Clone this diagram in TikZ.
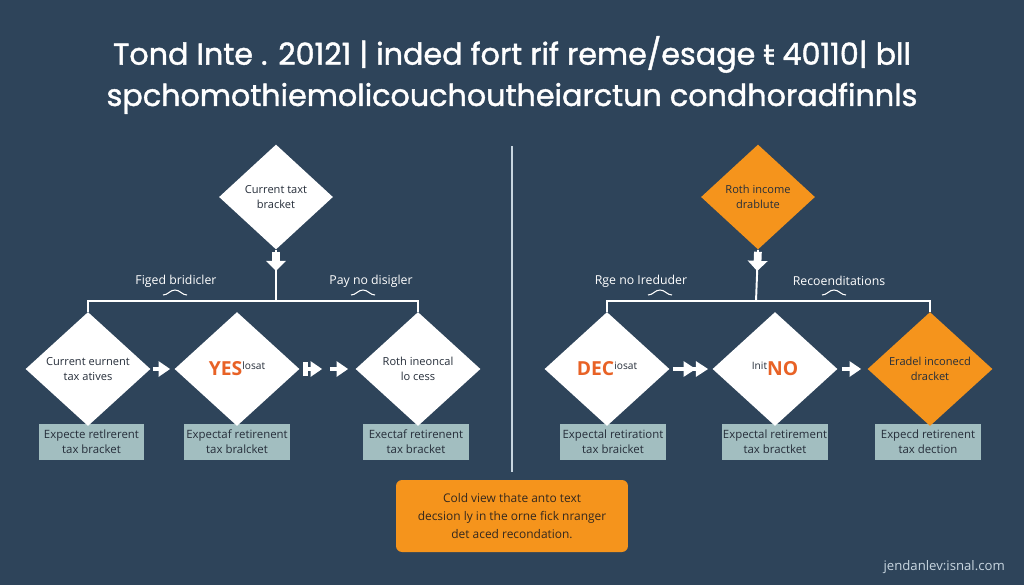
\documentclass[tikz,border=0pt]{standalone}
\usepackage{fontspec}
\setmainfont{Open Sans}
\newfontfamily\titlefont{Poppins}[FakeBold=1.4]
\newfontfamily\strokefont{DejaVu Sans}[FakeBold=1.4]
\usepackage{xcolor}
\usepackage{tikz}
\usetikzlibrary{shapes.geometric,positioning,arrows.meta,backgrounds}

\definecolor{slate}{RGB}{46,68,90}
\definecolor{rothorange}{RGB}{245,148,28}
\definecolor{answerred}{RGB}{232,98,38}
\definecolor{boxteal}{RGB}{162,190,192}
\definecolor{inkdark}{RGB}{38,46,58}
\definecolor{notetext}{RGB}{52,40,30}
\definecolor{rulegray}{RGB}{200,214,224}

\newcommand{\supword}[1]{\raisebox{3.6pt}{\fontsize{5.8}{7}\selectfont\color{inkdark}#1}}
\newcommand{\answerword}[1]{\textcolor{answerred}{\fontsize{11}{12}\selectfont\bfseries #1}}

\tikzset{
  choice/.style={shape=diamond, fill=white, inner sep=0pt, minimum width=2.5cm, minimum height=2.28cm, align=center, text=inkdark, font=\fontsize{6.3}{8.5}\selectfont},
  topchoice/.style={choice, minimum width=2.28cm, minimum height=2.1cm},
  hotchoice/.style={fill=rothorange},
  outcome/.style={fill=boxteal, minimum width=2.12cm, minimum height=0.72cm, inner sep=0pt, align=center, text=inkdark, font=\fontsize{6.5}{9}\selectfont},
  bus/.style={draw=white, line width=1.1pt},
  droparrow/.style={draw=white, line width=4.4pt, -{Triangle[width=11pt,length=5.8pt]}},
  sidearrow/.style={draw=white, line width=2.8pt, -{Triangle[width=8.5pt,length=6.6pt]}},
  branchlabel/.style={text=white, font=\fontsize{7}{9}\selectfont},
  tick/.style={draw=white, line width=0.6pt},
}

\begin{document}
\begin{tikzpicture}[x=0.02cm, y=-0.02cm]
\useasboundingbox (0,0) rectangle (1024,585);
\begin{scope}[on background layer]
\fill[slate] (0,0) rectangle (1024,585);
\end{scope}

% heading
\node[text=white, align=center, font=\titlefont\fontsize{17.2}{23.5}\selectfont] (heading) at (512,75)
  {Tond Inte . 20121 | inded fort rif reme/esage {\strokefont\fontsize{16}{20}\selectfont ŧ} 40110| bll\\spchomothiemolicouchoutheiarctun condhoradfinnls};

\draw[rulegray, line width=1.2pt] (512,146) -- (512,472);

% left tree
\node[topchoice] (taxnow) at (276,197) {Current taxt\\bracket};
\coordinate (busL) at (276,301);
\node[choice] (rates) at (88,369) {Current eurnent\\tax atives};
\node[choice] (yes) at (237,369) {\answerword{YES}\supword{losat}};
\node[choice] (rothcase) at (418,369) {Roth ineoncal\\lo cess};

% right tree
\node[topchoice, hotchoice] (rothtop) at (758,197) {Roth income\\drablute};
\coordinate (busR) at (756,301);
\node[choice] (dec) at (607,369) {\answerword{DEC}\supword{iosat}};
\node[choice] (no) at (775,369) {\supword{Init}\answerword{NO}};
\node[choice, hotchoice] (bracketR) at (930,369) {Eradel inconecd\\dracket};

\begin{scope}[on background layer]
\node[outcome, below=-0.06cm of rates, xshift=0.07cm] (ratesbox) {Expecte retlrerent\\tax bracket};
\node[outcome, below=-0.06cm of yes] (yesbox) {Expectaf retirenent\\tax bralcket};
\node[outcome, below=-0.06cm of rothcase, xshift=-0.04cm] (rothbox) {Exectaf retirenent\\tax bracket};
\node[outcome, below=-0.06cm of dec, xshift=0.12cm] (decbox) {Expectal retirationt\\tax braicket};
\node[outcome, below=-0.06cm of no] (nobox) {Expectal retirement\\tax bractket};
\node[outcome, below=-0.06cm of bracketR, xshift=-0.04cm] (bracketbox) {Expecd retirenent\\tax dection};
\end{scope}

% connectors
\draw[bus] (taxnow.south) -- (busL);
\draw[bus] (busL) -| (rates.north);
\draw[bus] (busL) -| (rothcase.north);
\draw[droparrow, shorten <=0.04cm, shorten >=0.6cm] (taxnow.south) -- (busL);
\draw[bus] (rothtop.south) -- (busR);
\draw[bus] (busR) -| (dec.north);
\draw[bus] (busR) -| (bracketR.north);
\draw[droparrow, shorten <=0.04cm, shorten >=0.6cm] (rothtop.south) -- (busR);

\draw[sidearrow, shorten <=0.04cm, shorten >=0.08cm] (rates.east) -- (yes.west);
\draw[sidearrow, {Bar[width=8pt]}-{Triangle[width=8.5pt,length=6.6pt]}, shorten <=0.06cm, shorten >=0.66cm] (yes.east) -- (rothcase.west);
\draw[sidearrow, shorten <=0.6cm, shorten >=0.14cm] (yes.east) -- (rothcase.west);
\draw[sidearrow, -{Triangle[width=8.5pt,length=7pt]Triangle[width=8.5pt,length=7pt]}, shorten <=0.06cm, shorten >=0.08cm] (dec.east) -- (no.west);
\draw[sidearrow, shorten <=0.08cm, shorten >=0.12cm] (no.east) -- (bracketR.west);

% branch labels
\node[branchlabel] (leftyes) at (176,281) {Figed bridicler};
\node[branchlabel] (leftno) at (371,281) {Pay no disigler};
\node[branchlabel] (rightno) at (641,281) {Rge no Ireduder};
\node[branchlabel] (rightyes) at (839,281) {Recoenditations};
\draw[tick] (163,295) to[out=0,in=180] (175,290) to[out=0,in=180] (187,295);
\draw[tick] (351,295) to[out=0,in=180] (363,290) to[out=0,in=180] (375,295);
\draw[tick] (648,295) to[out=0,in=180] (660,290) to[out=0,in=180] (672,295);
\draw[tick] (822,295) to[out=0,in=180] (834,290) to[out=0,in=180] (846,295);

% note and footer
\node[fill=rothorange, rounded corners=0.12cm, minimum width=4.64cm, minimum height=1.44cm, align=center, text=notetext, font=\fontsize{6.8}{10.2}\selectfont] (note) at (512,516)
  {Cold view thate anto text\\decsion ly in the orne fick nranger\\det aced recondation.};
\node[anchor=east, text=rulegray, font=\fontsize{7.5}{9}\selectfont] (site) at (1011,567) {jendanlev:isnal.com};
\end{tikzpicture}
\end{document}
